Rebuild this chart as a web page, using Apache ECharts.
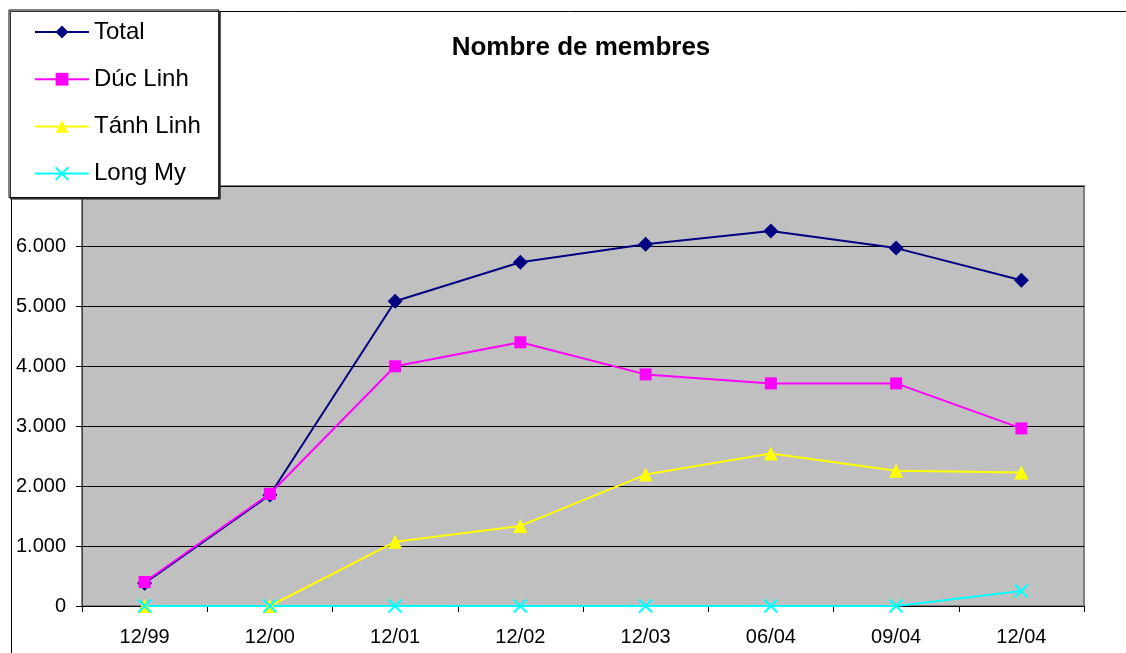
<!DOCTYPE html>
<html>
<head>
<meta charset="utf-8">
<script src="https://cdn.jsdelivr.net/npm/echarts@6/dist/echarts.min.js"></script>
<style>html,body{margin:0;padding:0;background:#fff;}#c{width:1126px;height:653px;}</style>
</head>
<body>
<div id="c"></div>
<script>
const categories = ['12/99', '12/00', '12/01', '12/02', '12/03', '06/04', '09/04', '12/04'];
const total = [380, 1850, 5080, 5730, 6030, 6250, 5965, 5430];
const ducLinh = [400, 1870, 3995, 4395, 3860, 3710, 3710, 2960];
const tanhLinh = [0, 0, 1070, 1335, 2190, 2540, 2255, 2225];
const longMy = [0, 0, 0, 0, 0, 0, 0, 250];
const seriesNames = ['Total', 'Dúc Linh', 'Tánh Linh', 'Long My'];
const yTicks = [0, 1000, 2000, 3000, 4000, 5000, 6000, 7000];

const FONT = 'Liberation Sans, Arial, sans-serif';
const chart = echarts.init(document.getElementById('c'));
const xPath = 'path://M0,0L10,10M10,0L0,10';

chart.setOption({
  animation: false,
  title: {
    text: 'Nombre de membres',
    left: 576, top: 30, textAlign: 'center',
    textStyle: { fontFamily: FONT, fontSize: 26, fontWeight: 'bold', color: '#000' }
  },
  graphic: [{
    type: 'rect', left: 9, top: 9, z: -10,
    shape: { width: 1300, height: 800 },
    style: { fill: 'none', stroke: '#000', lineWidth: 1 }
  }],
  legend: {
    orient: 'vertical', left: 9, top: 10,
    padding: [10, 18, 12, 25],
    itemWidth: 54, itemHeight: 16, itemGap: 23.2,
    backgroundColor: '#fff', borderColor: '#000', borderWidth: 1,
    shadowColor: '#333', shadowOffsetX: 1.5, shadowOffsetY: 1.5, shadowBlur: 0,
    textStyle: { fontFamily: FONT, fontSize: 24, color: '#000', lineHeight: 22 },
    data: seriesNames, z: 10
  },
  grid: {
    left: 82, right: 42, top: 186, bottom: 47,
    show: true, backgroundColor: '#C0C0C0', borderColor: '#808080', borderWidth: 2
  },
  xAxis: {
    type: 'category', data: categories, boundaryGap: true,
    axisLine: { lineStyle: { color: '#000', width: 1 } },
    axisTick: { show: true, inside: false, length: 6, lineStyle: { color: '#000' } },
    axisLabel: { fontFamily: FONT, fontSize: 20, color: '#000', margin: 21 }
  },
  yAxis: {
    type: 'value', min: 0, max: 7000, interval: 1000,
    axisLine: { show: true, lineStyle: { color: '#404040', width: 1 } },
    axisTick: { show: true, inside: false, length: 6, lineStyle: { color: '#000' } },
    splitLine: { show: true, lineStyle: { color: '#000', width: 1 } },
    axisLabel: {
      fontFamily: FONT, fontSize: 20, color: '#000', margin: 16,
      formatter: v => yTicks.includes(v) ? (v >= 1000 ? Math.floor(v / 1000) + '.' + String(v % 1000).padStart(3, '0') : String(v)) : ''
    }
  },
  series: [
    { name: seriesNames[0], type: 'line', data: total, symbol: 'diamond', symbolSize: 15,
      itemStyle: { color: '#000080' }, lineStyle: { color: '#000080', width: 2 } },
    { name: seriesNames[1], type: 'line', data: ducLinh, symbol: 'rect', symbolSize: 12,
      itemStyle: { color: '#FF00FF' }, lineStyle: { color: '#FF00FF', width: 2 } },
    { name: seriesNames[2], type: 'line', data: tanhLinh, symbol: 'triangle', symbolSize: 14,
      itemStyle: { color: '#FFFF00' }, lineStyle: { color: '#FFFF00', width: 2 } },
    { name: seriesNames[3], type: 'line', data: longMy, symbol: xPath, symbolSize: 13,
      itemStyle: { color: '#00FFFF', borderColor: '#00FFFF', borderWidth: 2 },
      lineStyle: { color: '#00FFFF', width: 2 } }
  ]
});
</script>
</body>
</html>
